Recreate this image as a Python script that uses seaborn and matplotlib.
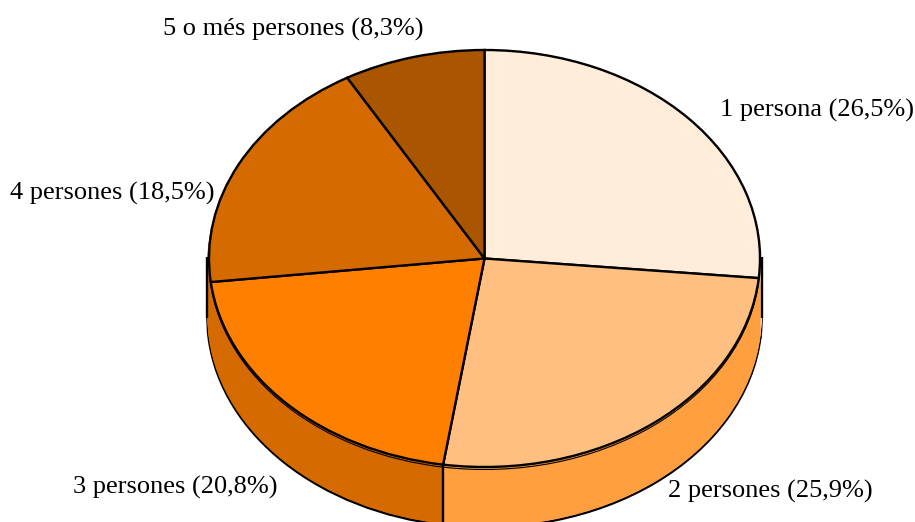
import numpy as np
import matplotlib
matplotlib.use('Agg')
import matplotlib.pyplot as plt
import seaborn as sns

sns.set_theme(style='white')
plt.rcParams['font.family'] = ['Liberation Serif', 'DejaVu Serif']

names = ['1 persona', '2 persones', '3 persones', '4 persones', '5 o més persones']
values = [26.5, 25.9, 20.8, 18.5, 8.3]
top_colors = sns.color_palette(['#FFEDD9', '#FFBF80', '#FF7F00', '#D46A00', '#AA5500'])
side_colors = sns.color_palette(['#FFD9B0', '#FF9F40', '#D46A00', '#D46A00', '#AA5500'])

W, H = 915, 522
cx, cy = 484.5, 258.5 # centre of the top ellipse, px
rx, ry = 275.5, 208.5 # radii of the ellipse, px
depth = 59 / ry       # thickness of the disc

fig = plt.figure(figsize=(W / 100, H / 100), dpi=100)
ax = fig.add_axes([0, 0, 1, 1])

edge = {'edgecolor': 'black', 'linewidth': 1.7}

# side of the disc: stacked pies going down, outlined at the bottom one
ax.pie(values, colors=side_colors, startangle=90, counterclock=False,
       radius=1.006, center=(0, -depth), wedgeprops=edge, frame=False)
for off in np.arange(depth - 1 / ry, 3 / ry, -1 / ry):
    ax.pie(values, colors=side_colors, startangle=90, counterclock=False,
           radius=1.006, center=(0, -off), wedgeprops={'linewidth': 0}, frame=False)

# thin rim just under the top face (gives the double line)
ax.pie(values, colors=side_colors, startangle=90, counterclock=False,
       radius=1.0, center=(0, -2.5 / ry),
       wedgeprops={'edgecolor': 'black', 'linewidth': 0.8}, frame=False)

# vertical edges
ax.vlines([-1.006, 1.006], 2 / ry, -depth, color='black', linewidth=1.7)
boundary = np.deg2rad(90 - 3.6 * sum(values[:2]))
ax.vlines(np.cos(boundary), np.sin(boundary), -depth + np.sin(boundary), color='black', linewidth=1.7)

# top face
ax.pie(values, colors=top_colors, startangle=90, counterclock=False,
       radius=1.0, center=(0, 0), wedgeprops=edge, frame=False)

ax.set_aspect('auto')
ax.set_xlim(-cx / rx, (W - cx) / rx)
ax.set_ylim((cy - H) / ry, cy / ry)
ax.axis('off')

label_pos = [(720, 110), (668, 491), (73, 487), (10, 193), (163, 29)]
for name, val, (x, y) in zip(names, values, label_pos):
    txt = f'{name} ({val:.1f}%)'.replace('.', ',')
    fig.text(x / W, 1 - y / H, txt, ha='left', va='center', fontsize=19, color='black')

fig.savefig('out.png', dpi=100)
